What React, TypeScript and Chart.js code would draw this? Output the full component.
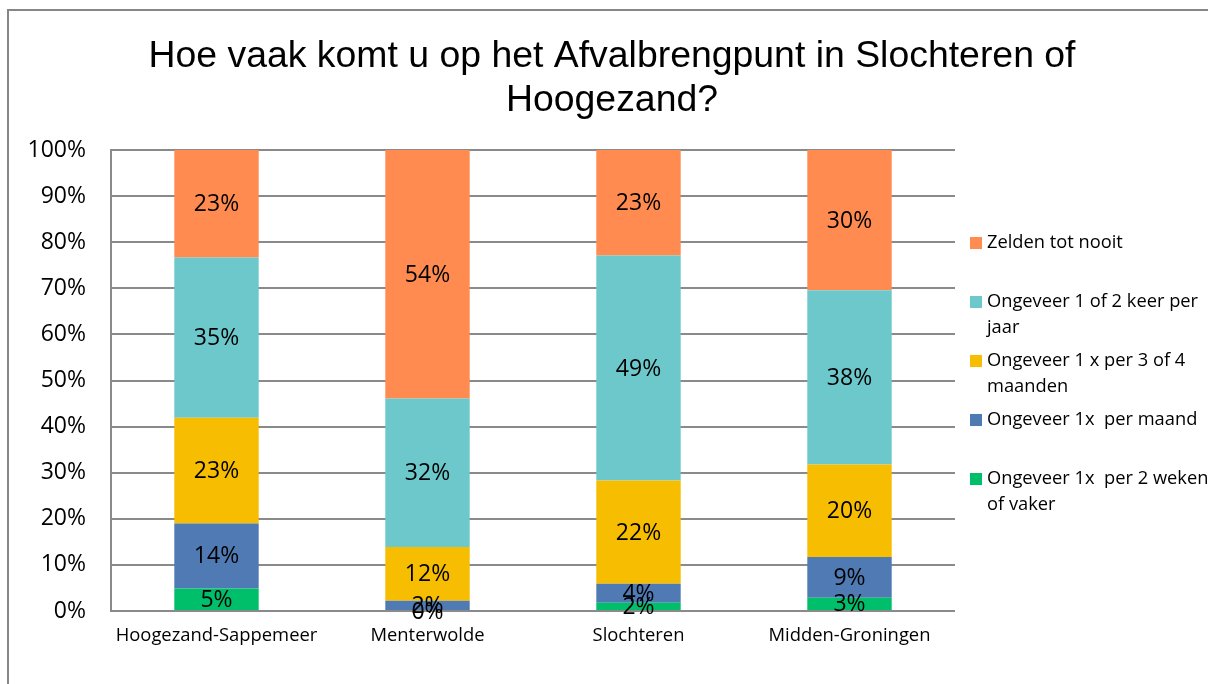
import React, { useEffect, useRef } from "react";
import { Chart, registerables } from "chart.js";

Chart.register(...registerables);

const titleLines = ["Hoe vaak komt u op het Afvalbrengpunt in Slochteren of", "Hoogezand?"];
const categories = ["Hoogezand-Sappemeer", "Menterwolde", "Slochteren", "Midden-Groningen"];

const seriesNames = [
  "Ongeveer 1x  per 2 weken of vaker",
  "Ongeveer 1x  per maand",
  "Ongeveer 1 x per 3 of 4 maanden",
  "Ongeveer 1 of 2 keer per jaar",
  "Zelden tot nooit",
];

const perTweeWeken = [4.9, 0, 1.8, 2.9];
const perMaand = [14.1, 2.2, 4.1, 8.8];
const perDrieVierMaanden = [22.9, 11.7, 22.4, 20.1];
const perJaar = [34.8, 32.2, 48.8, 37.8];
const zeldenNooit = [23.3, 53.9, 22.9, 30.4];

const seriesColors = ["#00BF6A", "#4F7AB3", "#F7BD00", "#6CC8CB", "#FF8B50"];

const yTicks = [0, 10, 20, 30, 40, 50, 60, 70, 80, 90, 100];

// legend entries, top to bottom, with their line breaks
const legendEntries = [
  { series: 4, lines: ["Zelden tot nooit"] },
  { series: 3, lines: ["Ongeveer 1 of 2 keer per", "jaar"] },
  { series: 2, lines: ["Ongeveer 1 x per 3 of 4", "maanden"] },
  { series: 1, lines: ["Ongeveer 1x  per maand"] },
  { series: 0, lines: ["Ongeveer 1x  per 2 weken", "of vaker"] },
];

const LABEL_FONT = '"Open Sans", "DejaVu Sans", sans-serif';

const framePlugin = {
  id: "frame",
  beforeDraw(chart: any) {
    const ctx = chart.ctx;
    ctx.save();
    ctx.fillStyle = "#ffffff";
    ctx.fillRect(0, 0, chart.width, chart.height);
    ctx.strokeStyle = "#868686";
    ctx.lineWidth = 2;
    ctx.beginPath();
    ctx.moveTo(8, chart.height);
    ctx.lineTo(8, 10);
    ctx.lineTo(chart.width, 10);
    ctx.stroke();
    ctx.restore();
  },
};

const titlePlugin = {
  id: "customTitle",
  afterDraw(chart: any) {
    const ctx = chart.ctx;
    ctx.save();
    ctx.fillStyle = "#000";
    ctx.font = '37.4px "Liberation Sans", Arial, sans-serif';
    ctx.textAlign = "center";
    ctx.textBaseline = "alphabetic";
    titleLines.forEach((t, i) => ctx.fillText(t, 612, 67 + i * 44));
    ctx.restore();
  },
};

const segmentLabelPlugin = {
  id: "segmentLabels",
  afterDatasetsDraw(chart: any) {
    const ctx = chart.ctx;
    ctx.save();
    ctx.font = `23px ${LABEL_FONT}`;
    ctx.fillStyle = "#000";
    ctx.textAlign = "center";
    ctx.textBaseline = "middle";
    chart.data.datasets.forEach((ds: any, i: number) => {
      const meta = chart.getDatasetMeta(i);
      meta.data.forEach((el: any, j: number) => {
        const v = ds.data[j];
        const p = el.getProps(["x", "y", "base"], true);
        ctx.fillText(Math.round(v) + "%", p.x, (p.y + p.base) / 2 + 1);
      });
    });
    ctx.restore();
  },
};

const legendPlugin = {
  id: "sideLegend",
  afterDraw(chart: any) {
    const ctx = chart.ctx;
    const area = chart.chartArea;
    const x0 = area.right + 15;
    const firstY = 243;
    const slot = 59;
    const lineH = 26;
    ctx.save();
    ctx.font = `18.3px ${LABEL_FONT}`;
    ctx.textAlign = "left";
    ctx.textBaseline = "middle";
    legendEntries.forEach((entry, i) => {
      const y = firstY + i * slot;
      ctx.fillStyle = seriesColors[entry.series];
      ctx.fillRect(x0, y - 6, 12, 12);
      ctx.fillStyle = "#000";
      entry.lines.forEach((line, k) => ctx.fillText(line, x0 + 17, y + k * lineH));
    });
    ctx.restore();
  },
};

export default function App() {
  const canvasRef = useRef<HTMLCanvasElement | null>(null);

  useEffect(() => {
    const canvas = canvasRef.current;
    if (!canvas) return;
    const seriesData = [perTweeWeken, perMaand, perDrieVierMaanden, perJaar, zeldenNooit];
    const chart = new Chart(canvas, {
      type: "bar",
      data: {
        labels: categories,
        datasets: seriesData.map((d, i) => ({
          label: seriesNames[i],
          data: d,
          backgroundColor: seriesColors[i],
          borderWidth: 0,
          barPercentage: 0.4,
          categoryPercentage: 1,
        })),
      },
      options: {
        responsive: false,
        animation: false,
        devicePixelRatio: 1,
        layout: { padding: { left: 0, right: 253, top: 150, bottom: 0 } },
        plugins: {
          legend: { display: false },
          title: { display: false },
          tooltip: { enabled: false },
        },
        scales: {
          x: {
            stacked: true,
            grid: { display: false, drawTicks: false },
            border: { display: false },
            ticks: {
              color: "#000",
              font: { family: LABEL_FONT, size: 18.4 },
              padding: 14,
              maxRotation: 0,
            },
            afterFit(scale: any) {
              scale.height = 73;
            },
          },
          y: {
            stacked: true,
            min: 0,
            max: 100,
            afterBuildTicks(scale: any) {
              scale.ticks = yTicks.map((v) => ({ value: v }));
            },
            grid: { color: "#8A8A8A", lineWidth: 2, drawTicks: false },
            border: { display: true, color: "#8A8A8A", width: 2 },
            ticks: {
              color: "#000",
              font: { family: LABEL_FONT, size: 23 },
              padding: 25,
              callback: (v: any) => v + "%",
            },
            afterFit(scale: any) {
              scale.width = 111;
            },
          },
        },
      },
      plugins: [framePlugin, titlePlugin, segmentLabelPlugin, legendPlugin],
    } as any);
    return () => chart.destroy();
  }, []);

  return (
    <div
      style={{
        position: "fixed",
        left: 0,
        top: 0,
        width: 1208,
        height: 684,
        overflow: "hidden",
        background: "#fff",
      }}
    >
      <canvas ref={canvasRef} width={1208} height={684} style={{ display: "block", width: 1208, height: 684 }} />
    </div>
  );
}
